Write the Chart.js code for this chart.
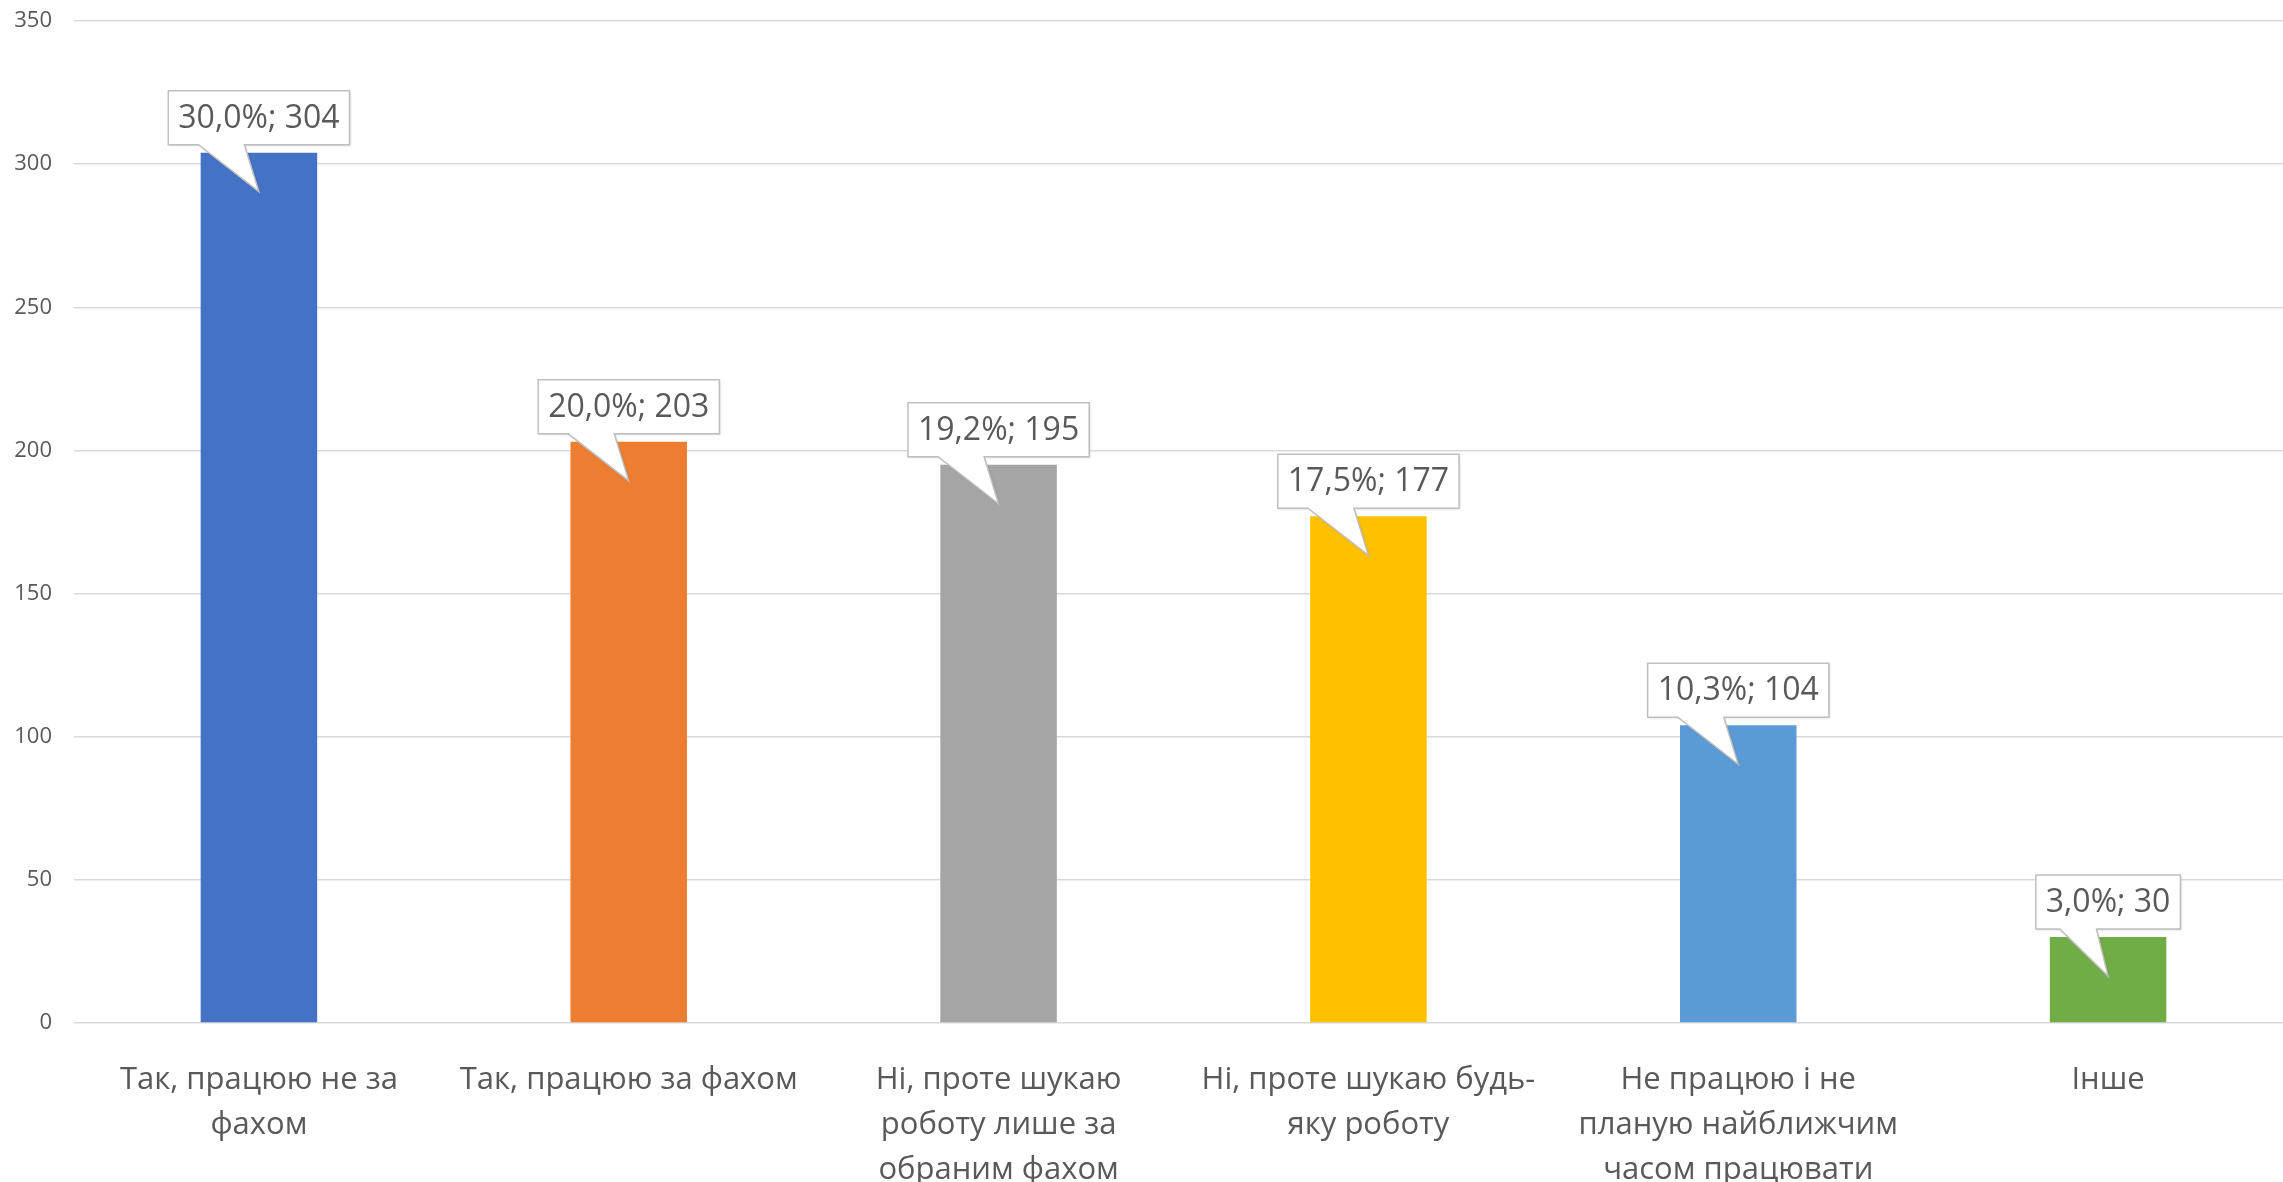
<!DOCTYPE html>
<html lang="uk">
<head>
  <meta charset="UTF-8">
  <title>Chart</title>
  <script src="https://cdn.jsdelivr.net/npm/chart.js"></script>
  <style>
    body { margin: 0; background: #fff; overflow: hidden; }
    /* plot runs a little past the right edge, as in the source picture */
    #wrap { width: 2293px; height: 1182px; position: relative; }
  </style>
</head>
<body>
  <div id="wrap"><canvas id="viz"></canvas></div>
  <script>
    // data
    const categories = [
      ['Так, працюю не за', 'фахом'],
      ['Так, працюю за фахом'],
      ['Ні, проте шукаю', 'роботу лише за', 'обраним фахом'],
      ['Ні, проте шукаю будь-', 'яку роботу'],
      ['Не працюю і не', 'планую найближчим', 'часом працювати'],
      ['Інше']
    ]
    const counts = [304, 203, 195, 177, 104, 30]
    const shares = ['30,0%', '20,0%', '19,2%', '17,5%', '10,3%', '3,0%']
    const yMax = 350
    const yStep = 50

    const barColors = ['#4472C4', '#ED7D31', '#A5A5A5', '#FFC000', '#5B9BD5', '#70AD47']
    const textColor = '#595959'
    const fontFamily = '"Open Sans", "Noto Sans", sans-serif'

    // Excel-style callout labels above each bar
    const callouts = {
      id: 'callouts',
      afterDatasetsDraw(chart) {
        const ctx = chart.ctx
        const meta = chart.getDatasetMeta(0)
        ctx.save()
        ctx.font = '32px ' + fontFamily
        meta.data.forEach((bar, i) => {
          const text = shares[i] + '; ' + counts[i]
          const w = ctx.measureText(text).width + 20
          const h = 54
          const cx = bar.x
          const top = bar.y
          const bottom = top - 8
          const left = cx - w / 2
          const right = cx + w / 2
          const boxTop = bottom - h

          ctx.beginPath()
          ctx.moveTo(left, boxTop)
          ctx.lineTo(right, boxTop)
          ctx.lineTo(right, bottom)
          ctx.lineTo(left + w * 0.42, bottom)
          ctx.lineTo(cx, top + 39)
          ctx.lineTo(left + w / 6, bottom)
          ctx.lineTo(left, bottom)
          ctx.closePath()
          ctx.shadowColor = 'rgba(0,0,0,0.18)'
          ctx.shadowBlur = 2
          ctx.shadowOffsetX = 1
          ctx.shadowOffsetY = 1
          ctx.fillStyle = '#fff'
          ctx.fill()
          ctx.shadowColor = 'transparent'
          ctx.strokeStyle = '#BFBFBF'
          ctx.lineWidth = 1.5
          ctx.stroke()

          ctx.fillStyle = textColor
          ctx.textAlign = 'center'
          ctx.textBaseline = 'middle'
          ctx.fillText(text, cx, boxTop + h / 2 + 1)
        })
        ctx.restore()
      }
    }

    const chart = new Chart(document.getElementById('viz'), {
      type: 'bar',
      data: {
        labels: categories,
        datasets: [{
          data: counts,
          backgroundColor: barColors,
          borderWidth: 0,
          barPercentage: 0.315,
          categoryPercentage: 1
        }]
      },
      options: {
        responsive: true,
        maintainAspectRatio: false,
        animation: false,
        layout: { padding: { top: 21, right: 0, left: 0, bottom: 0 } },
        plugins: {
          legend: { display: false },
          tooltip: { enabled: false }
        },
        scales: {
          x: {
            grid: { display: false },
            border: { display: false },
            ticks: {
              color: textColor,
              font: { family: fontFamily, size: 31, lineHeight: 1.45 },
              padding: 27,
              maxRotation: 0,
              autoSkip: false
            },
            afterFit(scale) { scale.height = 159 }
          },
          y: {
            min: 0,
            max: yMax,
            grid: { color: '#D9D9D9', lineWidth: 1.5, drawTicks: false },
            border: { display: false },
            ticks: {
              stepSize: yStep,
              color: textColor,
              font: { family: fontFamily, size: 22 },
              padding: 22
            },
            afterFit(scale) {
              scale.width = 74
              scale.paddingTop = 0
              scale.paddingBottom = 0
            }
          }
        }
      },
      plugins: [callouts]
    })
  </script>
</body>
</html>
